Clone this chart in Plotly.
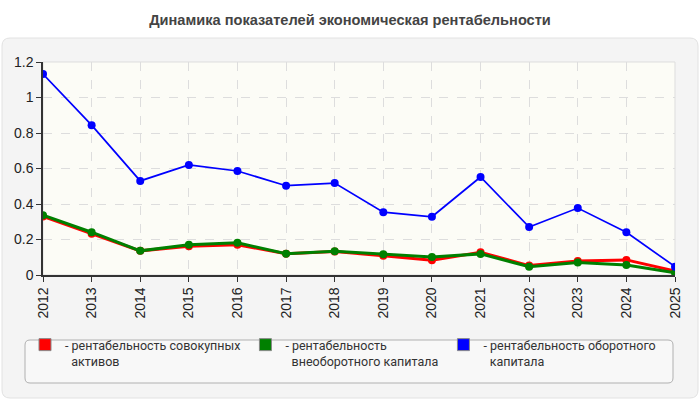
import plotly.graph_objects as go

years = [str(y) for y in range(2012, 2026)]
total_assets = [0.33, 0.232, 0.136, 0.162, 0.17, 0.12, 0.132, 0.109, 0.083, 0.128, 0.053, 0.079, 0.085, 0.022]
fixed_capital = [0.337, 0.241, 0.136, 0.17, 0.181, 0.12, 0.134, 0.117, 0.102, 0.119, 0.047, 0.07, 0.056, 0.013]
working_capital = [1.132, 0.844, 0.53, 0.62, 0.586, 0.503, 0.518, 0.354, 0.328, 0.552, 0.27, 0.377, 0.241, 0.047]

names = ["- рентабельность совокупных<br>&nbsp;&nbsp;активов",
         "- рентабельность<br>&nbsp;&nbsp;внеоборотного капитала",
         "- рентабельность оборотного<br>&nbsp;&nbsp;капитала"]
colors = ["#ff0000", "#008000", "#0000ff"]
widths = [3, 3, 1.7]

# plot area in pixels: x 43..675, y 62..275
L, R, T, B = 43, 675, 62, 275


def px_x(v):
    return (v - L) / (R - L)


def px_y(v):
    return (B - v) / (B - T)


def rounded(x0, y0, x1, y1, r=6):
    # rounded rectangle path in paper coords, given pixel box
    ax0, ax1 = px_x(x0), px_x(x1)
    ay0, ay1 = px_y(y0), px_y(y1)
    rx, ry = r / (R - L), r / (B - T)
    return (f"M{ax0 + rx},{ay0} L{ax1 - rx},{ay0} Q{ax1},{ay0} {ax1},{ay0 - ry} "
            f"L{ax1},{ay1 + ry} Q{ax1},{ay1} {ax1 - rx},{ay1} "
            f"L{ax0 + rx},{ay1} Q{ax0},{ay1} {ax0},{ay1 + ry} "
            f"L{ax0},{ay0 - ry} Q{ax0},{ay0} {ax0 + rx},{ay0} Z")


fig = go.Figure()

for vals, name, col, w in zip([total_assets, fixed_capital, working_capital], names, colors, widths):
    fig.add_trace(go.Scatter(x=years, y=vals, mode="lines+markers", name=name,
                             line=dict(color=col, width=w),
                             marker=dict(color=col, size=8),
                             showlegend=False))

# legend swatches as rectangles
for name, col in zip(names, colors):
    fig.add_trace(go.Bar(x=[None], y=[None], name=name, marker_color=col,
                         marker_line=dict(color="#888", width=1)))

# outer panel, legend box, plot background
fig.add_shape(type="path", xref="paper", yref="paper", path=rounded(2, 38, 698, 398, 8),
              fillcolor="#f4f4f4", line=dict(color="#e2e2e2", width=1), layer="below")
fig.add_shape(type="path", xref="paper", yref="paper", path=rounded(25, 340, 673, 383, 5),
              fillcolor="#f8f8f8", line=dict(color="#b0b0b0", width=1), layer="below")
fig.add_shape(type="rect", xref="paper", yref="paper", x0=0, x1=1, y0=0, y1=1,
              fillcolor="#fcfcf6", line=dict(color="#dddddd", width=1), layer="below")

fig.update_layout(
    width=700, height=400,
    margin=dict(l=L, r=700 - R, t=T, b=400 - B, autoexpand=False),
    paper_bgcolor="white",
    plot_bgcolor="rgba(0,0,0,0)",
    font=dict(family="Liberation Sans, Arial", size=14, color="#222"),
    title=dict(text="<b>Динамика показателей экономическая рентабельности</b>",
               x=0.5, xref="container", y=0.95, yref="container",
               xanchor="center", yanchor="middle",
               font=dict(family="Liberation Sans, Arial", size=14.6, color="#444")),
    showlegend=True,
    legend=dict(orientation="h", x=px_x(25), y=px_y(330), xanchor="left", yanchor="top",
                bgcolor="rgba(0,0,0,0)", valign="top",
                font=dict(family="Roboto", size=12.5, color="#333"),
                traceorder="normal"),
    xaxis=dict(type="category", range=[0, 13], showgrid=True, gridcolor="#dddddd",
               griddash="dash", tickangle=-90, ticks="outside", ticklen=5,
               tickcolor="#333", showline=True, linecolor="#333", linewidth=1.5,
               zeroline=False, automargin=False),
    yaxis=dict(range=[0, 1.2], dtick=0.2, showgrid=True, gridcolor="#dddddd",
               griddash="dash", ticks="outside", ticklen=5, tickcolor="#333",
               showline=True, linecolor="#333", linewidth=1.5, zeroline=False,
               tickformat="~g", automargin=False),
)

fig.write_html("out.html", config={"displayModeBar": False},
               post_script="document.body.style.margin='0';")
